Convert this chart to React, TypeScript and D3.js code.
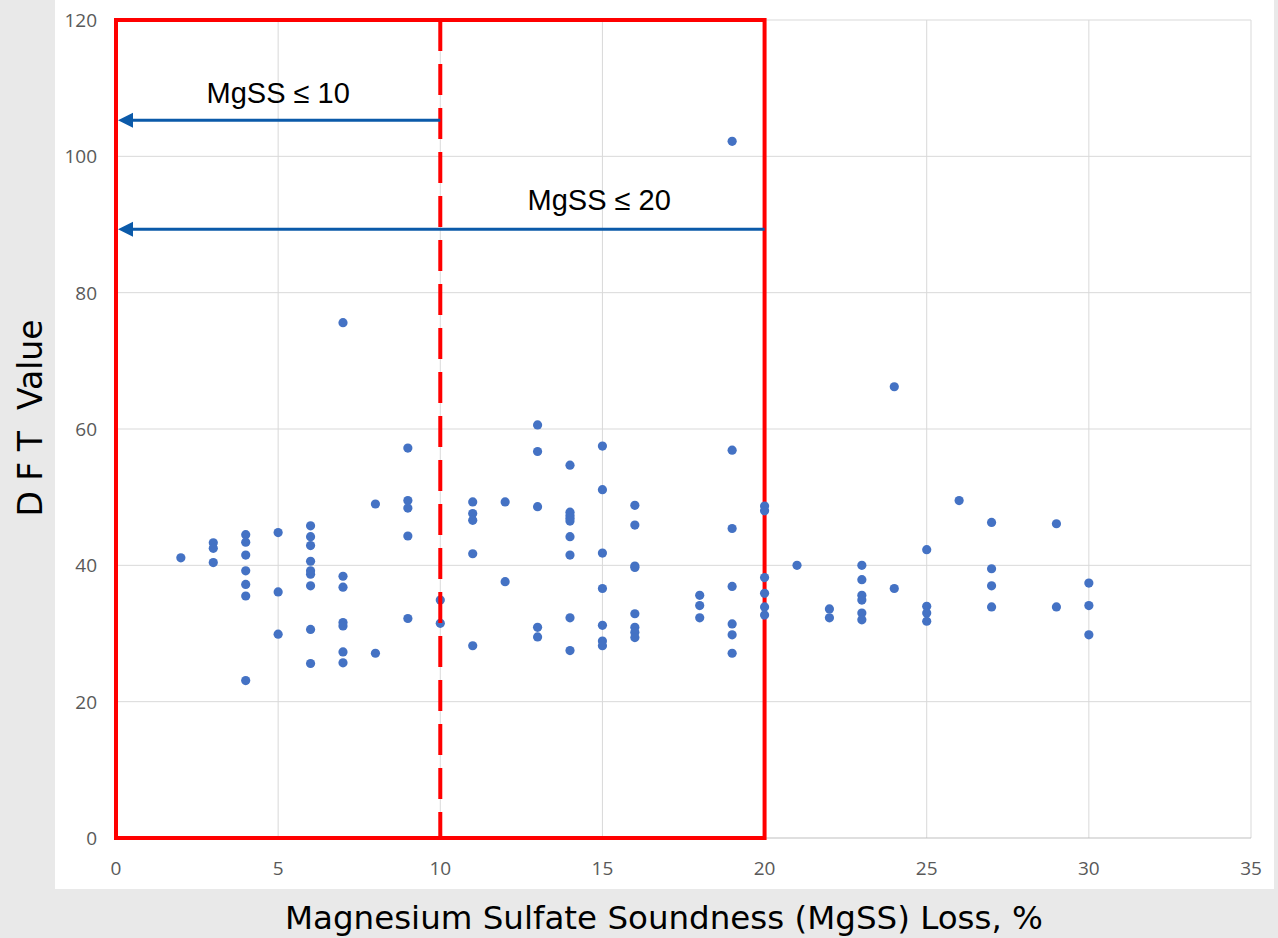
import React from 'react';
import * as d3 from 'd3';

// MgSS loss (%) and DFT value for each test
const mgssLoss = [
  2,
  3, 3, 3,
  4, 4, 4, 4, 4, 4, 4,
  5, 5, 5,
  6, 6, 6, 6, 6, 6, 6, 6, 6,
  7, 7, 7, 7, 7, 7, 7,
  8, 8,
  9, 9, 9, 9, 9,
  10, 10,
  11, 11, 11, 11, 11,
  12, 12,
  13, 13, 13, 13, 13,
  14, 14, 14, 14, 14, 14, 14, 14, 14,
  15, 15, 15, 15, 15, 15, 15,
  16, 16, 16, 16, 16, 16, 16, 16,
  18, 18, 18,
  19, 19, 19, 19, 19, 19, 19,
  20, 20, 20, 20, 20, 20,
  21,
  22, 22,
  23, 23, 23, 23, 23, 23,
  24, 24,
  25, 25, 25, 25,
  26,
  27, 27, 27, 27,
  29, 29,
  30, 30, 30,
];

const dftValue = [
  41.1,
  43.3, 42.5, 40.4,
  44.5, 43.4, 41.5, 39.2, 37.2, 35.5, 23.1,
  44.8, 36.1, 29.9,
  45.8, 44.2, 42.9, 40.6, 39.2, 38.7, 37.0, 30.6, 25.6,
  75.6, 38.4, 36.8, 31.6, 31.1, 27.3, 25.7,
  49.0, 27.1,
  57.2, 49.5, 48.4, 44.3, 32.2,
  34.9, 31.5,
  49.3, 47.6, 46.6, 41.7, 28.2,
  49.3, 37.6,
  60.6, 56.7, 48.6, 30.9, 29.5,
  54.7, 47.8, 47.3, 46.9, 46.5, 44.2, 41.5, 32.3, 27.5,
  57.5, 51.1, 41.8, 36.6, 31.2, 28.9, 28.2,
  48.8, 45.9, 39.9, 39.7, 32.9, 30.9, 30.2, 29.4,
  35.6, 34.1, 32.3,
  102.2, 56.9, 45.4, 36.9, 31.4, 29.8, 27.1,
  48.7, 48.0, 38.2, 35.9, 33.9, 32.7,
  40.0,
  33.6, 32.3,
  40.0, 37.9, 35.6, 34.9, 33.0, 32.0,
  66.2, 36.6,
  42.3, 34.0, 33.0, 31.8,
  49.5,
  46.3, 39.5, 37.0, 33.9,
  46.1, 33.9,
  37.4, 34.1, 29.8,
];

const xTicks = [0, 5, 10, 15, 20, 25, 30, 35];
const yTicks = [0, 20, 40, 60, 80, 100, 120];

// MgSS limits drawn as arrows
const limitLabels = ['MgSS \u2264 10', 'MgSS \u2264 20'];
const limitValues = [10, 20];
const arrowLevels = [105.3, 89.3];
const labelX = [5, 14.9];
const labelLevels = [107.8, 92.1];

const App = () => {
  const Width = 1278;
  const Height = 938;

  const xScale = d3.scaleLinear().domain([0, 35]).range([116, 1251]);
  const yScale = d3.scaleLinear().domain([0, 120]).range([838, 20]);

  const red = '#ff0000';
  const blue = '#0b5aa9';
  const tickFont = "'Open Sans', sans-serif";

  const vGrid = xTicks.slice(1).map((t) => (
    <line key={'gx' + t} x1={xScale(t)} x2={xScale(t)} y1={yScale(0)} y2={yScale(120)} stroke="#d9d9d9" strokeWidth={1} />
  ));
  const hGrid = yTicks.slice(1).map((t) => (
    <line key={'gy' + t} x1={xScale(0)} x2={xScale(35)} y1={yScale(t)} y2={yScale(t)} stroke="#d9d9d9" strokeWidth={1} />
  ));

  const dots = mgssLoss.map((m, i) => (
    <circle key={i} cx={xScale(m)} cy={yScale(dftValue[i])} r={4.6} fill="#4472c4" />
  ));

  const arrows = limitValues.map((lim, i) => {
    const y = yScale(arrowLevels[i]);
    const x0 = xScale(0) + 2;
    return (
      <g key={'a' + i}>
        <line x1={xScale(lim)} x2={x0 + 12} y1={y} y2={y} stroke={blue} strokeWidth={3} />
        <path d={`M${x0},${y} L${x0 + 15},${y - 7.5} L${x0 + 15},${y + 7.5} Z`} fill={blue} />
        <text
          x={xScale(labelX[i])}
          y={yScale(labelLevels[i])}
          textAnchor="middle"
          style={{ fontFamily: "'Liberation Sans', Arial, sans-serif", fontSize: '29px', fill: '#000' }}
        >
          {limitLabels[i]}
        </text>
      </g>
    );
  });

  return (
    <svg width={Width} height={Height} style={{ position: 'absolute', left: 0, top: 0 }}>
      <rect x={0} y={0} width={Width} height={Height} fill="#e9e9e9" />
      <rect x={55} y={0} width={1219} height={889} fill="#ffffff" />

      {vGrid}
      {hGrid}
      <line x1={xScale(0)} x2={xScale(35)} y1={yScale(0)} y2={yScale(0)} stroke="#bfbfbf" strokeWidth={1} />

      {xTicks.map((t) => (
        <text key={'xt' + t} x={xScale(t)} y={875} textAnchor="middle" style={{ fontFamily: tickFont, fontSize: '19px', fill: '#595959' }}>
          {t}
        </text>
      ))}
      {yTicks.map((t) => (
        <text key={'yt' + t} x={97} y={yScale(t) + 7} textAnchor="end" style={{ fontFamily: tickFont, fontSize: '19px', fill: '#595959' }}>
          {t}
        </text>
      ))}

      <rect
        x={xScale(0)}
        y={yScale(120)}
        width={xScale(20) - xScale(0)}
        height={yScale(0) - yScale(120)}
        fill="none"
        stroke={red}
        strokeWidth={4}
      />

      {dots}

      <line
        x1={xScale(10)}
        x2={xScale(10)}
        y1={yScale(120)}
        y2={yScale(0)}
        stroke={red}
        strokeWidth={4}
        strokeDasharray="31 13"
      />

      {arrows}

      <text
        transform={`translate(42, 418) rotate(-90)`}
        textAnchor="middle"
        style={{ fontFamily: "'DejaVu Sans', Verdana, sans-serif", fontSize: '33px', fill: '#000', whiteSpace: 'pre' }}
      >
        D F T  Value
      </text>
      <text
        x={664}
        y={929}
        textAnchor="middle"
        style={{ fontFamily: "'DejaVu Sans', Verdana, sans-serif", fontSize: '32.5px', fill: '#000' }}
      >
        Magnesium Sulfate Soundness (MgSS) Loss, %
      </text>
    </svg>
  );
};

export default App;
